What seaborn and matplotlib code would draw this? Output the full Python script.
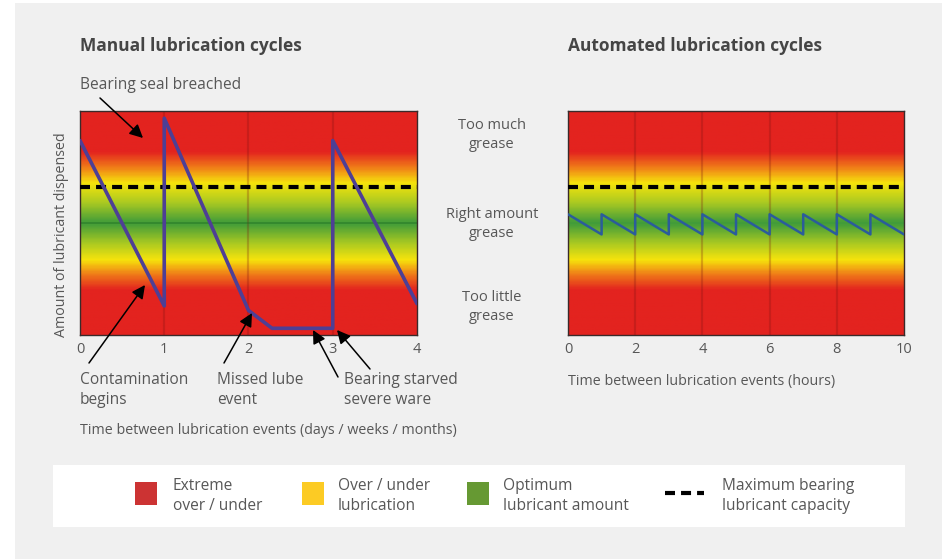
import numpy as np
import matplotlib
matplotlib.use("Agg")
import matplotlib.pyplot as plt
import seaborn as sns
from matplotlib.colors import LinearSegmentedColormap
from matplotlib.patches import Rectangle, FancyArrowPatch
from matplotlib.lines import Line2D

# --- data ---
manual_x = [0, 1, 1, 2, 2.28, 3, 3, 4]
manual_y = [0.87, 0.13, 0.97, 0.11, 0.03, 0.03, 0.87, 0.14]

auto_x = [0, 1, 1, 2, 2, 3, 3, 4, 4, 5, 5, 6, 6, 7, 7, 8, 8, 9, 9, 10]
auto_y = [0.54, 0.45, 0.54, 0.45, 0.54, 0.45, 0.54, 0.45, 0.54, 0.45,
          0.54, 0.45, 0.54, 0.45, 0.54, 0.45, 0.54, 0.45, 0.54, 0.45]

max_capacity = 0.66
manual_ticks = [0, 1, 2, 3, 4]
auto_ticks = [0, 2, 4, 6, 8, 10]
zone_labels = ["Too much\ngrease", "Right amount\ngrease", "Too little\ngrease"]
zone_levels = [0.895, 0.497, 0.125]
legend_labels = ["Extreme\nover / under", "Over / under\nlubrication",
                 "Optimum\nlubricant amount", "Maximum bearing\nlubricant capacity"]
legend_colors = ["#cc3333", "#fccb24", "#669933"]

sns.set_theme(style="white")
plt.rcParams["font.family"] = ["Open Sans", "DejaVu Sans"]

TXT = "#575757"
W, H = 942, 559
fig = plt.figure(figsize=(W / 100, H / 100), dpi=100, facecolor="white")
fig.patches.append(Rectangle((15 / W, 0), 1, 1 - 3 / H, transform=fig.transFigure,
                             facecolor="#f0f0f0", edgecolor="none", zorder=-10))

band = LinearSegmentedColormap.from_list("lube", [
    (0.00, "#e3231f"), (0.20, "#e3231f"), (0.27, "#f07c18"), (0.335, "#f6e40c"),
    (0.41, "#a9c922"), (0.50, "#3f9b3a"), (0.59, "#a9c922"), (0.68, "#f6e40c"),
    (0.75, "#f07c18"), (0.82, "#e3231f"), (1.00, "#e3231f")])
grad = np.linspace(0, 1, 300).reshape(-1, 1)


def panel(rect, xmax, ticks, xs, ys, color, lw, grid_x, hline):
    ax = fig.add_axes(rect)
    ax.imshow(grad, cmap=band, origin="lower", aspect="auto",
              extent=[0, xmax, 0, 1], zorder=0)
    for gx in grid_x:
        ax.axvline(gx, color="#7a1010", alpha=0.25, lw=1.6, zorder=1)
    if hline:
        ax.axhline(0.5, color="#1e6b1e", alpha=0.45, lw=1.2, zorder=1)
    ax.axhline(max_capacity, color="black", lw=3.0, dashes=(2.4, 1.45), zorder=3)
    sns.lineplot(x=xs, y=ys, ax=ax, sort=False, estimator=None,
                 color=color, lw=lw, zorder=4)
    ax.set_xlim(0, xmax)
    ax.set_ylim(0, 1)
    ax.set_xticks(ticks)
    ax.set_xticklabels([str(t) for t in ticks])
    ax.set_yticks([])
    ax.tick_params(axis="x", length=0, pad=5, labelsize=10.5, labelcolor=TXT)
    for s in ax.spines.values():
        s.set_color("#3a2a2a")
        s.set_linewidth(1.0)
    return ax


ax1 = panel([80 / W, 1 - 335 / H, 337 / W, 223.5 / H], 4, manual_ticks,
            manual_x, manual_y, "#4e3f95", 2.6, [1, 2, 3], True)
ax2 = panel([568 / W, 1 - 335 / H, 336 / W, 223.5 / H], 10, auto_ticks,
            auto_x, auto_y, "#2b5c9b", 1.8, [2, 4, 6, 8], False)

ax1.set_ylabel("Amount of lubricant dispensed", fontsize=10.3, color=TXT)
ax1.yaxis.set_label_coords(-0.032, 0.45)


def ftext(x, y, s, **kw):
    kw.setdefault("color", TXT)
    kw.setdefault("fontsize", 11.2)
    fig.text(x / W, 1 - y / H, s, **kw)


ftext(80, 46, "Manual lubrication cycles", fontsize=12.5, fontweight="bold",
      color="#454545", va="center")
ftext(568, 46, "Automated lubrication cycles", fontsize=12.5, fontweight="bold",
      color="#454545", va="center")
ftext(80, 85, "Bearing seal breached", va="center")
ftext(80, 431, "Time between lubrication events (days / weeks / months)",
      fontsize=10.25, va="center")
ftext(568, 381, "Time between lubrication events (hours)", fontsize=10.25, va="center")
ftext(80, 390, "Contamination\nbegins", va="center", linespacing=1.38)
ftext(217, 390, "Missed lube\nevent", va="center", linespacing=1.38)
ftext(344, 390, "Bearing starved\nsevere ware", va="center", linespacing=1.38)

for lab, lev in zip(zone_labels, zone_levels):
    y_px = 335 - lev * 223.5
    ftext(492, y_px, lab, fontsize=10.5, ha="center", va="center", linespacing=1.40)

arrows = [((100, 98), (143, 138)), ((89, 363), (145, 285)), ((224, 363), (252, 313)),
          ((338, 377), (313, 330)), ((370, 369), (337, 330))]
for (tx, ty), (hx, hy) in arrows:
    fig.add_artist(FancyArrowPatch(
        (tx / W, 1 - ty / H), (hx / W, 1 - hy / H), transform=fig.transFigure,
        arrowstyle="-|>,head_length=8,head_width=4", color="black", lw=1.1,
        shrinkA=0, shrinkB=0, zorder=10))

# legend box
fig.patches.append(Rectangle((53 / W, 1 - 527 / H), 852 / W, 62 / H, transform=fig.transFigure,
                             facecolor="white", edgecolor="none", zorder=-5))
patch_x = [135, 302, 467]
for px, c in zip(patch_x, legend_colors):
    fig.patches.append(Rectangle((px / W, 1 - 505 / H), 22 / W, 23 / H,
                                 transform=fig.transFigure, facecolor=c, edgecolor="none"))
fig.add_artist(Line2D([665 / W, 704 / W], [1 - 493 / H] * 2, transform=fig.transFigure,
                      color="black", lw=3.0, dashes=(2.4, 1.45)))
for lx, lab in zip([173, 338, 503, 722], legend_labels):
    ftext(lx, 496, lab, va="center", linespacing=1.34)

fig.savefig("out.png", dpi=100, facecolor=fig.get_facecolor())
